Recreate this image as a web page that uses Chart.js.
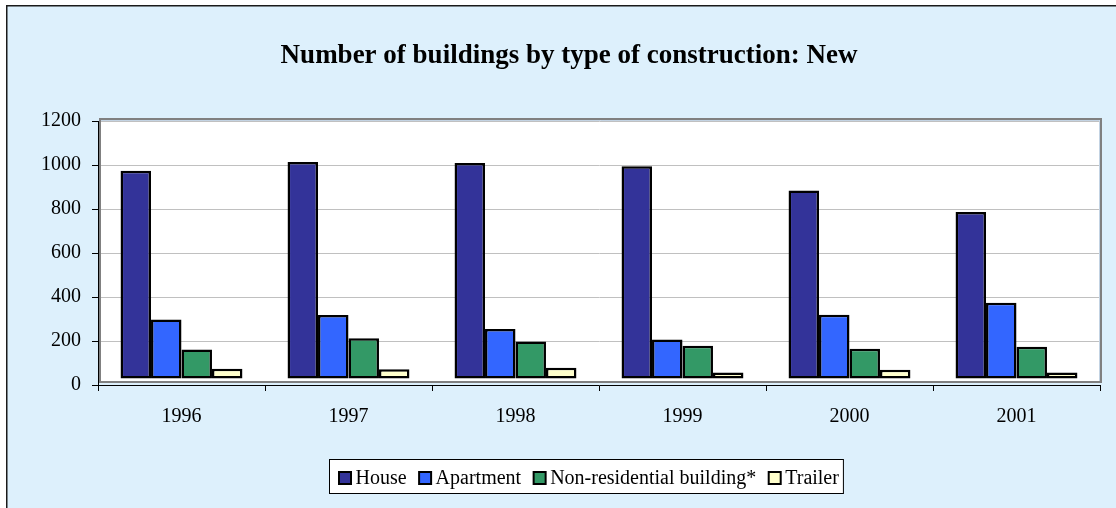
<!DOCTYPE html>
<html>
<head>
<meta charset="utf-8">
<title>Number of buildings by type of construction: New</title>
<script src="https://cdn.jsdelivr.net/npm/chart.js@4.4.1/dist/chart.umd.min.js"></script>
<style>
  html, body { margin: 0; padding: 0; background: #ffffff; }
  #wrap { width: 1116px; height: 508px; position: relative; }
  canvas { display: block; }
</style>
</head>
<body>
<div id="wrap"><canvas id="c" width="1116" height="508"></canvas></div>
<script>
// Yearly counts of new buildings, by construction type
const years = ['1996', '1997', '1998', '1999', '2000', '2001'];
const house = [947, 986, 982, 967, 857, 759];
const apartment = [271, 291, 227, 180, 292, 347];
const nonResidential = [134, 185, 170, 151, 138, 147];
const trailer = [47, 44, 51, 29, 42, 30];

const yTicks = [0, 200, 400, 600, 800, 1000, 1200];
const seriesNames = ['House', 'Apartment', 'Non-residential building*', 'Trailer'];
const seriesColors = ['#333399', '#3366FF', '#339966', '#FFFFCC'];
const titleText = 'Number of buildings by type of construction: New';

const SERIF = '"Liberation Serif", "Times New Roman", serif';
const FLOOR = 6; // thickness of the plot floor the columns stand on

// Background panel, plot box, title and boxed legend
const framePlugin = {
  id: 'frame',
  beforeDraw(chart) {
    const ctx = chart.ctx;
    const W = chart.width, H = chart.height;
    ctx.save();
    ctx.fillStyle = '#ffffff';
    ctx.fillRect(0, 0, W, H);
    ctx.fillStyle = '#DDF0FC';
    ctx.fillRect(6, 5, W - 6, H - 5);
    ctx.strokeStyle = '#1a1a1a';
    ctx.lineWidth = 1.5;
    ctx.beginPath();
    ctx.moveTo(6.75, H + 2);
    ctx.lineTo(6.75, 5.75);
    ctx.lineTo(W + 2, 5.75);
    ctx.stroke();

    // white plotting area
    ctx.fillStyle = '#ffffff';
    ctx.fillRect(99, 118, 1003, 265);

    // title
    ctx.fillStyle = '#000000';
    ctx.font = 'bold 27px ' + SERIF;
    ctx.textAlign = 'center';
    ctx.textBaseline = 'alphabetic';
    ctx.fillText(titleText, 569, 62.5);

    // legend
    ctx.font = '20px ' + SERIF;
    ctx.textAlign = 'left';
    const items = chart.data.datasets.map(d => ({ label: d.label, color: d.backgroundColor }));
    const gap = 11.5;
    let x = 338;
    const pos = [];
    items.forEach(it => {
      const w = ctx.measureText(it.label).width;
      pos.push({ x, w, it });
      x += 14 + 3.5 + w + gap;
    });
    const boxLeft = 329;
    const boxRight = x - gap + 4;
    ctx.fillStyle = '#ffffff';
    ctx.fillRect(boxLeft, 459, boxRight - boxLeft, 34);
    ctx.strokeStyle = '#000000';
    ctx.lineWidth = 1;
    ctx.strokeRect(boxLeft + 0.5, 459.5, boxRight - boxLeft, 34);
    pos.forEach(p => {
      ctx.fillStyle = '#000000';
      ctx.fillRect(p.x, 471, 14, 14);
      ctx.fillStyle = p.it.color;
      ctx.fillRect(p.x + 2, 473, 10, 10);
      ctx.fillStyle = '#000000';
      ctx.fillText(p.it.label, p.x + 14 + 3.5, 483.5);
    });
    ctx.restore();
  },
  beforeDatasetsDraw(chart) {
    const ctx = chart.ctx;
    ctx.save();
    // grey rim of the plot box
    ctx.strokeStyle = '#808080';
    ctx.lineWidth = 2;
    ctx.strokeRect(100, 119, 1001, 263);
    ctx.strokeStyle = '#C3D3E3';
    ctx.lineWidth = 1;
    ctx.beginPath();
    ctx.moveTo(101, 120.5);
    ctx.lineTo(1099.5, 120.5);
    ctx.lineTo(1099.5, 381);
    ctx.stroke();
    ctx.restore();
    // columns stand on the floor surface
    ctx.save();
    ctx.translate(0, -FLOOR);
  },
  afterDatasetsDraw(chart) {
    chart.ctx.restore();
  }
};

const seriesValues = [house, apartment, nonResidential, trailer];

function build() {
  new Chart(document.getElementById('c'), {
    type: 'bar',
    data: {
      labels: years,
      datasets: seriesNames.map((name, i) => ({
        label: name,
        data: seriesValues[i],
        backgroundColor: seriesColors[i],
        borderColor: '#000000',
        borderWidth: 2.5,
        borderSkipped: false,
        barPercentage: 1,
        categoryPercentage: 0.73
      }))
    },
    options: {
      responsive: false,
      animation: false,
      devicePixelRatio: 1,
      layout: { padding: { top: 121, right: 16, left: 0, bottom: 0 } },
      plugins: {
        legend: { display: false },
        title: { display: false },
        tooltip: { enabled: false }
      },
      scales: {
        x: {
          offset: true,
          grid: {
            offset: true,
            drawOnChartArea: false,
            drawTicks: true,
            tickLength: 6,
            tickColor: '#000000'
          },
          border: { display: true, color: '#000000', width: 1 },
          ticks: {
            color: '#000000',
            font: { family: SERIF, size: 20 },
            padding: 14,
            maxRotation: 0
          },
          afterFit(s) { s.height = 123; }
        },
        y: {
          min: 0,
          max: 1200,
          afterBuildTicks(s) { s.ticks = yTicks.map(v => ({ value: v })); },
          grid: {
            color: '#C0C0C0',
            lineWidth: 1,
            drawTicks: true,
            tickLength: 6,
            tickColor: '#000000'
          },
          border: { display: true, color: '#000000', width: 1 },
          ticks: {
            color: '#000000',
            font: { family: SERIF, size: 20 },
            padding: 11,
            callback: v => String(v)
          },
          afterFit(s) { s.width = 98; }
        }
      }
    },
    plugins: [framePlugin]
  });
}

if (document.fonts && document.fonts.load) {
  document.fonts.load('20px "Liberation Serif"').then(build, build);
} else {
  build();
}
</script>
</body>
</html>
